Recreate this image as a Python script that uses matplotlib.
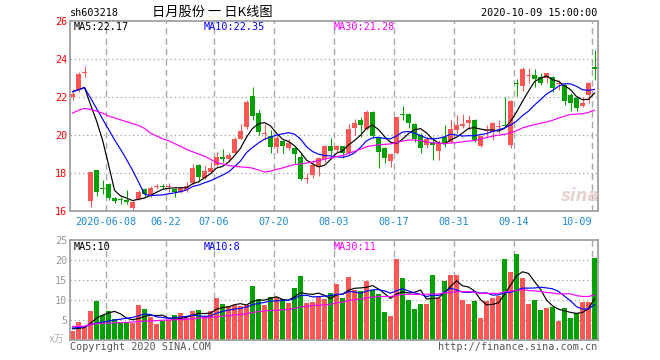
import numpy as np
import pandas as pd
import matplotlib
matplotlib.use("Agg")
import matplotlib.pyplot as plt
from matplotlib.patches import Rectangle

plt.rcParams['lines.scale_dashes'] = False
plt.rcParams['font.family'] = ['DejaVu Sans Mono', 'Noto Sans CJK SC']

# ---------------- data ----------------
open_ = [22.00, 22.37, 23.25, 16.53, 18.16, 17.20, 17.42, 16.67, 16.60, 16.60,
         16.14, 16.63, 17.14, 16.84, 17.25, 17.33, 17.26, 17.16, 17.02, 17.10,
         17.46, 18.42, 17.75, 18.07, 18.42, 18.86, 18.74, 19.07, 19.77, 20.40,
         22.05, 21.14, 20.05, 19.95, 19.39, 19.70, 19.30, 19.33, 18.86, 17.70,
         17.89, 18.33, 18.72, 19.42, 19.21, 19.42, 19.04, 20.35, 20.79, 20.30,
         21.23, 19.82, 19.33, 18.65, 19.04, 21.12, 21.10, 20.58, 20.00, 19.47,
         19.65, 19.16, 19.88, 19.65, 20.26, 20.49, 20.65, 20.79, 19.42, 20.20,
         20.18, 20.42, 20.50, 19.47, 22.70, 22.58, 23.10, 23.16, 23.07, 23.02,
         23.07, 22.66, 22.63, 22.11, 21.96, 21.53, 22.11, 23.55]
close = [22.16, 23.19, 23.33, 18.04, 17.02, 17.15, 16.70, 16.53, 16.58, 16.45,
         16.49, 17.02, 16.89, 17.23, 17.30, 17.25, 17.30, 17.02, 17.23, 17.33,
         18.28, 17.81, 18.10, 18.28, 18.82, 18.72, 18.95, 19.79, 20.23, 21.75,
         21.00, 20.18, 20.10, 19.39, 19.82, 19.42, 19.56, 19.00, 17.67, 17.75,
         18.42, 18.77, 19.42, 19.16, 19.42, 19.07, 20.30, 20.61, 20.53, 21.23,
         19.95, 19.12, 18.77, 19.00, 20.93, 21.07, 20.61, 19.77, 19.30, 19.79,
         19.47, 19.56, 19.56, 20.30, 20.53, 20.56, 20.79, 19.74, 19.95, 20.25,
         20.61, 20.47, 20.47, 21.79, 22.68, 23.46, 23.15, 22.95, 22.72, 23.25,
         22.49, 22.70, 21.81, 21.70, 21.40, 21.70, 22.75, 23.50]
high = [22.40, 23.33, 23.63, 18.04, 18.16, 17.63, 17.50, 16.75, 16.75, 17.10,
        16.58, 17.10, 17.19, 17.32, 17.42, 17.42, 17.46, 17.20, 17.28, 17.54,
        18.47, 18.47, 18.42, 18.60, 19.12, 19.25, 19.05, 19.88, 20.56, 21.84,
        22.54, 21.32, 20.60, 20.26, 20.00, 19.74, 19.77, 19.39, 19.04, 17.98,
        18.68, 18.86, 19.47, 19.86, 19.47, 19.42, 20.56, 20.82, 20.96, 21.32,
        21.28, 19.91, 19.39, 19.07, 20.96, 21.53, 21.14, 20.61, 20.09, 19.91,
        19.91, 19.74, 20.53, 20.79, 21.05, 21.10, 21.05, 20.82, 20.00, 20.53,
        20.70, 20.79, 21.98, 21.84, 22.93, 23.56, 23.51, 23.46, 23.28, 23.28,
        23.10, 22.90, 22.68, 22.19, 22.05, 22.02, 22.81, 24.47]
low = [21.84, 22.28, 23.04, 16.23, 16.81, 16.89, 16.60, 16.44, 16.37, 16.35,
       16.02, 16.58, 16.75, 16.75, 17.14, 17.14, 17.02, 16.75, 16.93, 17.02,
       17.37, 17.54, 17.67, 18.00, 18.37, 18.60, 18.60, 19.04, 19.77, 20.30,
       20.79, 20.00, 19.74, 19.04, 19.04, 19.07, 19.20, 18.47, 17.63, 17.46,
       17.72, 17.84, 18.60, 18.95, 19.12, 18.77, 19.00, 20.00, 19.91, 20.26,
       19.82, 18.25, 18.54, 18.33, 19.00, 20.79, 20.35, 19.65, 19.04, 19.30,
       18.68, 18.68, 19.39, 19.56, 20.09, 20.35, 20.26, 19.65, 19.39, 19.91,
       19.74, 20.12, 20.40, 19.30, 22.05, 22.33, 22.72, 22.54, 22.63, 22.72,
       22.28, 22.37, 21.58, 21.28, 21.28, 21.49, 21.70, 22.90]
volume = [2.3, 4.5, 3.25, 7.3, 9.8, 6.2, 7.25, 5.2, 4.2, 4.5,
          4.2, 8.75, 7.75, 5.8, 4.0, 4.75, 5.1, 6.25, 6.75, 5.5,
          7.25, 7.5, 6.1, 7.25, 10.5, 9.0, 8.6, 8.8, 8.5, 8.8,
          13.5, 10.25, 8.8, 10.75, 10.7, 10.25, 9.25, 13.0, 16.0, 9.25,
          9.6, 10.75, 10.25, 11.75, 14.0, 10.5, 15.75, 12.6, 12.25, 14.8,
          12.6, 11.5, 7.0, 6.0, 20.25, 15.5, 10.0, 7.75, 9.0, 9.0,
          16.25, 10.5, 14.75, 16.25, 16.25, 10.0, 9.0, 9.75, 5.5, 9.75,
          10.5, 11.0, 20.25, 17.0, 21.5, 15.5, 9.0, 10.0, 7.5, 8.0,
          8.25, 4.75, 8.0, 5.5, 6.75, 9.5, 9.5, 20.5]

# moving-average values at the start of the window (history before the chart)
price_ma5_lead = [22.28, 22.38, 22.50, 21.60]
price_ma10_lead = [22.28, 22.38, 22.50, 21.95, 21.40, 20.85, 20.30, 19.75, 19.25]
price_ma30_lead = [21.15, 21.30, 21.40, 21.35, 21.26, 21.15, 21.00, 20.90, 20.80, 20.70,
                   20.60, 20.50, 20.35, 20.10, 19.95, 19.80, 19.70, 19.55, 19.40, 19.25,
                   19.12, 19.00, 18.88, 18.72, 18.55, 18.48, 18.40, 18.35, 18.32]
vol_ma5_lead = [2.8, 2.9, 3.1, 4.2]
vol_ma10_lead = [3.0, 3.1, 3.3, 3.9, 4.2, 4.5, 4.7, 5.0, 5.2]
vol_ma30_lead = [3.4, 3.4, 3.45, 3.9, 4.1, 4.2, 4.25, 4.3, 4.35, 4.4,
                 4.5, 4.6, 4.7, 4.75, 4.85, 4.95, 5.0, 5.05, 5.1, 5.2,
                 5.3, 5.45, 5.55, 5.65, 5.8, 5.95, 6.1, 6.25, 6.4]

tick_labels = ['2020-06-08', '06-22', '07-06', '07-20', '08-03', '08-17', '08-31', '09-14', '10-09']
tick_index = [6, 16, 24, 34, 44, 54, 64, 74, 87]

price_ticks = [16, 18, 20, 22, 24, 26]
vol_ticks = [5, 10, 15, 20, 25]

legend_price = ['MA5:22.17', 'MA10:22.35', 'MA30:21.28']
legend_vol = ['MA5:10', 'MA10:8', 'MA30:11']

# ---------------- helpers ----------------
def moving_avg(vals, n, lead):
    s = pd.Series(vals, dtype=float).rolling(n).mean().to_numpy()
    s[:len(lead)] = lead
    return s

RED = '#ff5656'
GREEN = '#00a000'
C_MA = ['#000000', '#0000ff', '#ff00ff']
GRID = '#a8a8a8'
FRAME = '#a0a0a0'
FS = 7.3

W, H = 660, 360
fig = plt.figure(figsize=(W / 100, H / 100), dpi=100)
fig.patch.set_facecolor('white')

def px_axes(x0, y0, x1, y1):
    return fig.add_axes([x0 / W, 1 - y1 / H, (x1 - x0) / W, (y1 - y0) / H])

def ftext(x, y, s, **kw):
    kw.setdefault('fontsize', FS)
    kw.setdefault('va', 'center')
    fig.text(x / W, 1 - y / H, s, **kw)

n = len(close)
idx = np.arange(n)
o = np.array(open_); c = np.array(close); h = np.array(high); l = np.array(low)
up = c >= o
colors = np.where(up, RED, GREEN)
xlim = (-2.5 / 6, 87 + 3.5 / 6)
vline_pos = [t - 2.5 / 6 for t in tick_index]

def style_axes(ax):
    ax.set_xlim(*xlim)
    for s in ax.spines.values():
        s.set_color(FRAME)
        s.set_linewidth(1.3)
        s.set_zorder(10)
    ax.set_xticks(vline_pos)
    ax.tick_params(length=0)
    for xv in vline_pos:
        ax.axvline(xv, color=GRID, lw=1.0, linestyle=(0, (4.5, 3)), zorder=0)

# ---------------- price panel ----------------
ax = px_axes(70, 20.5, 598, 211)
style_axes(ax)
ax.set_ylim(16, 26 + 0.5 / 19)
for yv in price_ticks[1:-1]:
    ax.axhline(yv, color=GRID, lw=0.9, linestyle=(0, (1, 2)), zorder=0)
ax.set_yticks(price_ticks)
ax.set_yticklabels([str(v) for v in price_ticks], color='#ff0000', fontsize=FS)
ax.tick_params(axis='y', pad=2)
ax.set_xticklabels(tick_labels, color='#1a8ad4', fontsize=FS)
ax.tick_params(axis='x', pad=4.5)
lbls = ax.get_xticklabels()
lbls[-1].set_ha('right')
lbls[-1].set_x(lbls[-1].get_position()[0])

body_bottom = np.minimum(o, c)
body_h = np.maximum(np.abs(c - o), 0.055)
ax.vlines(idx, l, h, colors=colors, lw=0.75, zorder=2)
ax.bar(idx, body_h, bottom=body_bottom, width=0.8, color=colors, lw=0, zorder=3)

pma = [moving_avg(close, 5, price_ma5_lead), moving_avg(close, 10, price_ma10_lead),
       moving_avg(close, 30, price_ma30_lead)]
for m, col in zip(pma, C_MA):
    ax.plot(idx, m, color=col, lw=0.85, zorder=4)

# ---------------- volume panel ----------------
axv = px_axes(70, 240, 598, 340)
style_axes(axv)
axv.set_ylim(0, 25)
for yv in vol_ticks[:-1]:
    axv.axhline(yv, color=GRID, lw=0.9, linestyle=(0, (1, 2)), zorder=0)
axv.set_yticks(vol_ticks)
axv.set_yticklabels([str(v) for v in vol_ticks], color='#999999', fontsize=FS)
axv.tick_params(axis='y', pad=2)
axv.set_xticklabels([])
axv.bar(idx, volume, width=0.8, color=colors, lw=0, zorder=3)
vma = [moving_avg(volume, 5, vol_ma5_lead), moving_avg(volume, 10, vol_ma10_lead),
       moving_avg(volume, 30, vol_ma30_lead)]
for m, col in zip(vma, C_MA):
    axv.plot(idx, m, color=col, lw=0.85, zorder=4)

# ---------------- texts ----------------
ftext(70, 13, 'sh603218', color='black')
ftext(212, 12.5, '日月股份 一 日K线图', ha='center', fontsize=9.5,
      family=['Noto Sans CJK SC', 'DejaVu Sans'], color='black')
ftext(597, 13, '2020-10-09 15:00:00', ha='right', color='black')

for s, x, col in zip(legend_price, [74, 204, 334], C_MA):
    ftext(x, 27, s, color=col)
for s, x, col in zip(legend_vol, [74, 204, 334], C_MA):
    ftext(x, 246.5, s, color=col)

ftext(64, 339, 'x万', ha='right', color='#b0b0b0', fontsize=7,
      family=['DejaVu Sans Mono', 'Noto Sans CJK SC'])
ftext(70, 347, 'Copyright 2020 SINA.COM', color='#555555')
ftext(597, 347, 'http://finance.sina.com.cn', ha='right', color='#555555')

# sina watermark
ftext(580, 196, 'sina', ha='center', color='#e6cccc', fontsize=12, style='italic',
      weight='bold', family='DejaVu Sans', alpha=0.9)

fig.savefig('out.png', dpi=100, facecolor='white')
